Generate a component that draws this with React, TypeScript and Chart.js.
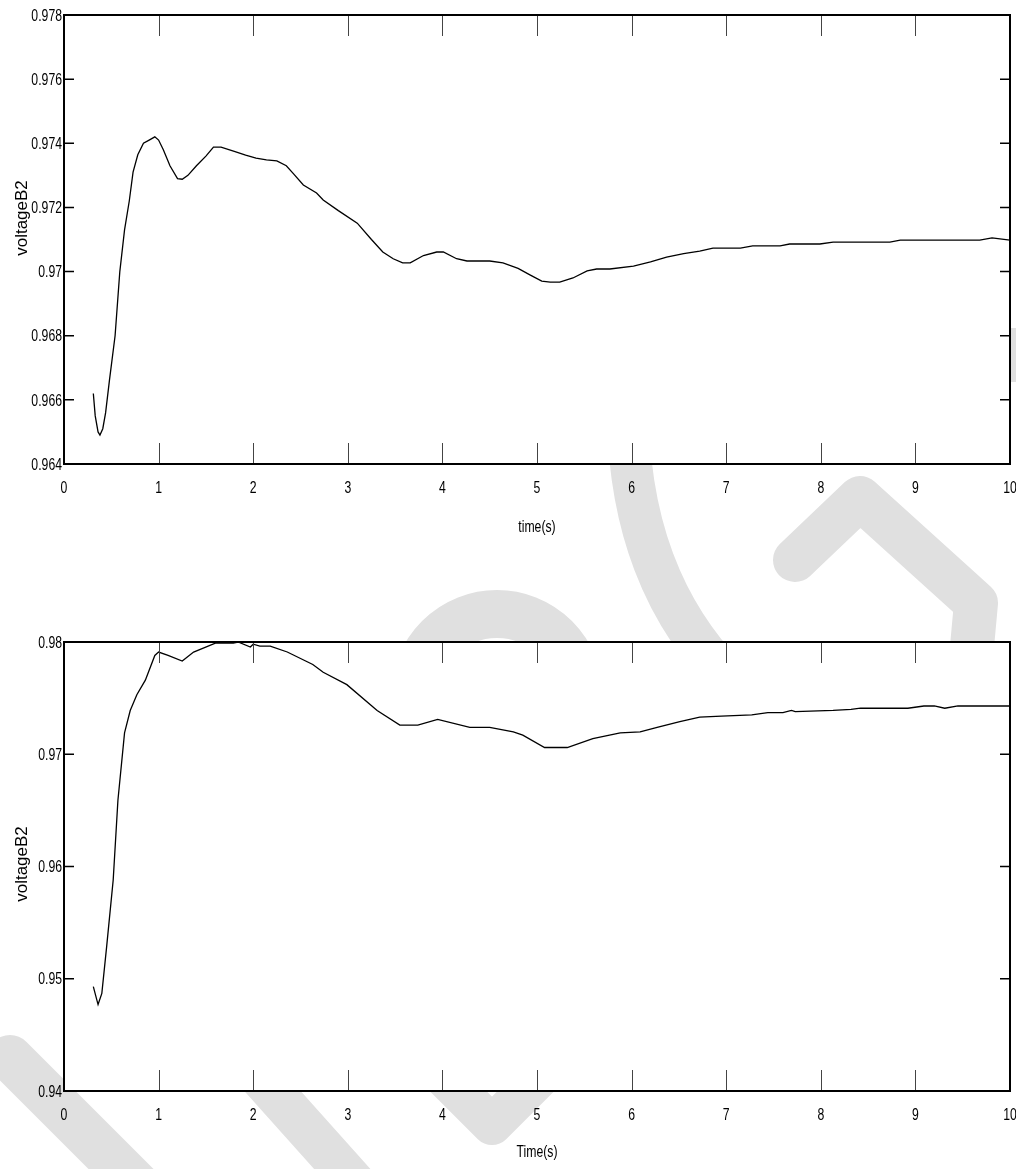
import React, { useEffect, useRef } from 'react';
import { Chart, registerables } from 'chart.js';
Chart.register(...registerables);

// ---------- data ----------
const xTicks = [0, 1, 2, 3, 4, 5, 6, 7, 8, 9, 10];
const xLabels = ['0', '1', '2', '3', '4', '5', '6', '7', '8', '9', '10'];

const topYTicks = [0.964, 0.966, 0.968, 0.97, 0.972, 0.974, 0.976, 0.978];
const topYLabels = ['0.964', '0.966', '0.968', '0.97', '0.972', '0.974', '0.976', '0.978'];

const botYTicks = [0.94, 0.95, 0.96, 0.97, 0.98];
const botYLabels = ['0.94', '0.95', '0.96', '0.97', '0.98'];

const topTime = [
  0.31, 0.33, 0.36, 0.38, 0.41, 0.44, 0.48, 0.54, 0.59, 0.64, 0.69, 0.73, 0.78, 0.84, 0.9, 0.96,
  1.0, 1.05, 1.12, 1.2, 1.25, 1.31, 1.4, 1.5, 1.58, 1.66, 1.8, 1.92, 2.03, 2.14, 2.25, 2.35,
  2.42, 2.53, 2.67, 2.74, 2.9, 3.1, 3.25, 3.37, 3.48, 3.58, 3.66, 3.8, 3.94, 4.01, 4.15, 4.26,
  4.5, 4.64, 4.8, 4.93, 5.05, 5.14, 5.24, 5.38, 5.53, 5.63, 5.77, 6.02, 6.2, 6.37, 6.55, 6.72,
  6.86, 7.15, 7.28, 7.57, 7.67, 7.99, 8.13, 8.73, 8.84, 9.68, 9.81, 10.0,
];
const topVoltage = [
  0.9662, 0.9655, 0.965, 0.9649, 0.9651, 0.9656, 0.9666, 0.968, 0.97, 0.9713, 0.9722, 0.9731, 0.97364, 0.974, 0.9741, 0.9742,
  0.9741, 0.9738, 0.9733, 0.9729, 0.97288, 0.973, 0.9733, 0.9736, 0.97388, 0.97388, 0.97375, 0.97363, 0.97354, 0.97348, 0.97345, 0.9733,
  0.97307, 0.9727, 0.97245, 0.97223, 0.9719, 0.97151, 0.971, 0.97061, 0.9704, 0.97027, 0.97027, 0.9705, 0.97061, 0.97061, 0.9704, 0.97033,
  0.97033, 0.97027, 0.9701, 0.96989, 0.9697, 0.96967, 0.96967, 0.9698, 0.97002, 0.97008, 0.97008, 0.97017, 0.9703, 0.97045, 0.97056, 0.97064,
  0.97073, 0.97073, 0.9708, 0.9708, 0.97086, 0.97086, 0.97092, 0.97092, 0.97098, 0.97098, 0.97105, 0.97098,
];

const botTime = [
  0.31, 0.36, 0.4, 0.45, 0.52, 0.57, 0.64, 0.7, 0.77, 0.86, 0.96, 1.0, 1.1, 1.25, 1.37, 1.6,
  1.79, 1.84, 1.97, 2.0, 2.07, 2.18, 2.36, 2.63, 2.74, 2.99, 3.31, 3.55, 3.74, 3.95, 4.29, 4.5,
  4.75, 4.85, 5.08, 5.32, 5.59, 5.88, 6.09, 6.27, 6.51, 6.72, 6.95, 7.27, 7.44, 7.6, 7.69, 7.73,
  8.13, 8.32, 8.42, 8.92, 9.09, 9.2, 9.31, 9.45, 10.0,
];
const botVoltage = [
  0.9493, 0.9477, 0.9487, 0.9528, 0.9588, 0.9659, 0.9719, 0.9739, 0.9753, 0.9766, 0.9788, 0.9791, 0.9788, 0.9783, 0.9791, 0.9799,
  0.9799, 0.98, 0.97955, 0.9798, 0.97964, 0.97964, 0.97911, 0.978, 0.9773, 0.9762, 0.9739, 0.9726, 0.9726, 0.9731, 0.9724, 0.9724,
  0.972, 0.9717, 0.9706, 0.9706, 0.9714, 0.9719, 0.972, 0.9724, 0.9729, 0.9733, 0.9734, 0.9735, 0.9737, 0.9737, 0.9739, 0.9738,
  0.9739, 0.974, 0.9741, 0.9741, 0.9743, 0.9743, 0.9741, 0.9743, 0.9743,
];

// ---------- styling ----------
const FONT = '"Liberation Sans", Arial, sans-serif';
const PAGE_W = 1016;
const PAGE_H = 1169;
const PLOT_LEFT = 64;
const PLOT_RIGHT = 1010;

function drawWatermark(ctx: CanvasRenderingContext2D, offsetTop: number) {
  ctx.save();
  ctx.translate(0, -offsetTop);
  ctx.strokeStyle = '#e0e0e0';
  ctx.lineCap = 'round';
  ctx.lineJoin = 'round';
  ctx.lineWidth = 46;
  ctx.beginPath();
  ctx.moveTo(10, 1058);
  ctx.lineTo(160, 1208);
  ctx.stroke();
  ctx.lineWidth = 42;
  ctx.beginPath();
  ctx.moveTo(200, 1010);
  ctx.lineTo(370, 1200);
  ctx.stroke();
  ctx.lineWidth = 40;
  ctx.beginPath();
  ctx.moveTo(420, 1053);
  ctx.lineTo(492, 1125);
  ctx.lineTo(564, 1053);
  ctx.stroke();
  ctx.lineWidth = 48;
  ctx.lineCap = 'butt';
  ctx.beginPath();
  ctx.arc(497, 696, 82, Math.PI, 2 * Math.PI);
  ctx.stroke();
  ctx.lineWidth = 42;
  ctx.beginPath();
  ctx.moveTo(628, 420);
  ctx.quadraticCurveTo(632, 590, 740, 690);
  ctx.stroke();
  ctx.lineCap = 'round';
  ctx.lineWidth = 44;
  ctx.beginPath();
  ctx.moveTo(795, 560);
  ctx.lineTo(860, 498);
  ctx.lineTo(976, 603);
  ctx.lineTo(968, 690);
  ctx.stroke();
  ctx.fillStyle = '#e0e0e0';
  ctx.fillRect(1011, 328, 5, 54);
  ctx.restore();
}

function narrowText(
  ctx: CanvasRenderingContext2D,
  text: string,
  x: number,
  y: number,
  align: CanvasTextAlign,
  size: number,
  sx: number,
) {
  ctx.save();
  ctx.translate(x, y);
  ctx.scale(sx, 1);
  ctx.font = `${size}px ${FONT}`;
  ctx.fillStyle = '#000';
  ctx.textAlign = align;
  ctx.textBaseline = 'middle';
  ctx.fillText(text, 0, 0);
  ctx.restore();
}

type PanelProps = {
  canvasTop: number;
  height: number;
  plotTop: number;
  plotBottom: number;
  time: number[];
  values: number[];
  yTicks: number[];
  yLabels: string[];
  xTitle: string;
  xTitleY: number;
  yTitleCenter: number;
};

function Panel(p: PanelProps) {
  const ref = useRef<HTMLCanvasElement | null>(null);
  useEffect(() => {
    const canvas = ref.current;
    if (!canvas) return;

    const watermark = {
      id: 'watermark',
      beforeDraw(chart: any) {
        const ctx = chart.ctx as CanvasRenderingContext2D;
        drawWatermark(ctx, p.canvasTop);
        const a = chart.chartArea;
        ctx.save();
        ctx.fillStyle = '#ffffff';
        ctx.fillRect(a.left, a.top, a.right - a.left, a.bottom - a.top);
        ctx.restore();
      },
    };

    const frame = {
      id: 'frame',
      afterDraw(chart: any) {
        const ctx = chart.ctx as CanvasRenderingContext2D;
        const a = chart.chartArea;
        const xs = chart.scales.x;
        const ys = chart.scales.y;
        ctx.save();
        ctx.strokeStyle = '#444';
        ctx.lineWidth = 1;
        xTicks.forEach((v) => {
          const px = Math.round(xs.getPixelForValue(v)) + 0.5;
          ctx.beginPath();
          ctx.moveTo(px, a.bottom);
          ctx.lineTo(px, a.bottom - 21);
          ctx.moveTo(px, a.top);
          ctx.lineTo(px, a.top + 21);
          ctx.stroke();
        });
        ctx.strokeStyle = '#000';
        ctx.lineWidth = 1.5;
        p.yTicks.forEach((v) => {
          const py = ys.getPixelForValue(v);
          ctx.beginPath();
          ctx.moveTo(a.left, py);
          ctx.lineTo(a.left + 10, py);
          ctx.moveTo(a.right, py);
          ctx.lineTo(a.right - 10, py);
          ctx.stroke();
        });
        ctx.lineWidth = 2;
        ctx.strokeRect(a.left, a.top, a.right - a.left, a.bottom - a.top);
        ctx.restore();

        // tick labels (condensed, MATLAB-like)
        xTicks.forEach((v, i) => {
          narrowText(ctx, xLabels[i], xs.getPixelForValue(v), a.bottom + 24, 'center', 17, 0.72);
        });
        p.yTicks.forEach((v, i) => {
          narrowText(ctx, p.yLabels[i], a.left - 2, ys.getPixelForValue(v) + 1, 'right', 17, 0.72);
        });
        // x title
        narrowText(ctx, p.xTitle, (a.left + a.right) / 2, p.xTitleY - p.canvasTop, 'center', 17, 0.72);
        // y title
        ctx.save();
        ctx.translate(22, p.yTitleCenter - p.canvasTop);
        ctx.rotate(-Math.PI / 2);
        ctx.font = `17px ${FONT}`;
        ctx.fillStyle = '#000';
        ctx.textAlign = 'center';
        ctx.textBaseline = 'middle';
        ctx.fillText('voltageB2', 0, 0);
        ctx.restore();
      },
    };

    const chart = new Chart(canvas, {
      type: 'line',
      data: {
        datasets: [
          {
            data: p.time.map((t, i) => ({ x: t, y: p.values[i] })),
            borderColor: '#000',
            borderWidth: 1.3,
            pointRadius: 0,
            tension: 0,
            fill: false,
          },
        ],
      },
      options: {
        animation: false,
        responsive: false,
        maintainAspectRatio: false,
        devicePixelRatio: 1,
        layout: {
          padding: { left: 0, top: p.plotTop - p.canvasTop, right: PAGE_W - PLOT_RIGHT, bottom: 0 },
        },
        plugins: { legend: { display: false }, tooltip: { enabled: false }, title: { display: false } },
        scales: {
          x: {
            type: 'linear',
            min: 0,
            max: 10,
            afterBuildTicks: (s: any) => {
              s.ticks = xTicks.map((v) => ({ value: v }));
            },
            afterFit: (s: any) => {
              s.height = p.canvasTop + p.height - p.plotBottom;
              s.paddingLeft = 0;
              s.paddingRight = 0;
            },
            ticks: { display: false },
            grid: { display: false, drawTicks: false },
            border: { display: false },
            title: { display: false },
          },
          y: {
            type: 'linear',
            min: p.yTicks[0],
            max: p.yTicks[p.yTicks.length - 1],
            afterBuildTicks: (s: any) => {
              s.ticks = p.yTicks.map((v) => ({ value: v }));
            },
            afterFit: (s: any) => {
              s.width = PLOT_LEFT;
              s.paddingTop = 0;
              s.paddingBottom = 0;
            },
            ticks: { display: false },
            grid: { display: false, drawTicks: false },
            border: { display: false },
          },
        },
      },
      plugins: [watermark, frame],
    } as any);
    return () => chart.destroy();
  }, []);
  return (
    <canvas
      ref={ref}
      width={PAGE_W}
      height={p.height}
      style={{ position: 'absolute', left: 0, top: p.canvasTop, width: PAGE_W, height: p.height, display: 'block' }}
    />
  );
}

export default function App() {
  return (
    <div
      style={{ position: 'absolute', left: 0, top: 0, width: PAGE_W, height: PAGE_H, background: '#fff', overflow: 'hidden' }}
    >
      <Panel
        canvasTop={0}
        height={570}
        plotTop={15}
        plotBottom={464}
        time={topTime}
        values={topVoltage}
        yTicks={topYTicks}
        yLabels={topYLabels}
        xTitle="time(s)"
        xTitleY={527}
        yTitleCenter={218}
      />
      <Panel
        canvasTop={570}
        height={599}
        plotTop={642}
        plotBottom={1091}
        time={botTime}
        values={botVoltage}
        yTicks={botYTicks}
        yLabels={botYLabels}
        xTitle="Time(s)"
        xTitleY={1152}
        yTitleCenter={864}
      />
    </div>
  );
}
